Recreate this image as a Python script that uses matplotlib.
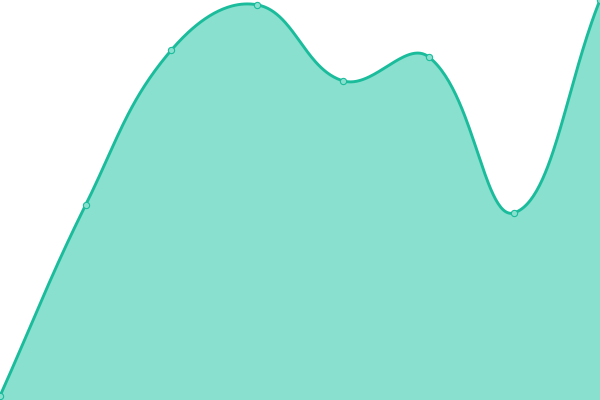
import numpy as np
import matplotlib.pyplot as plt

labels = ['A', 'B', 'C', 'D', 'E', 'F', 'G', 'H']
values = [1, 48.8, 87.5, 98.8, 79.8, 85.8, 46.8, 100]

line_color = '#1abc9c'
fill_color = '#8ae0cf'
tension = 0.4

x = np.arange(len(values), dtype=float)
y = np.array(values, dtype=float)

# spline control points, distances measured in pixel space
sx, sy = 600 / 7, 4.0
cp_prev, cp_next = [], []
n = len(x)
for i in range(n):
    p0 = (x[max(i - 1, 0)], y[max(i - 1, 0)])
    p1 = (x[i], y[i])
    p2 = (x[min(i + 1, n - 1)], y[min(i + 1, n - 1)])
    d01 = np.hypot((p1[0] - p0[0]) * sx, (p1[1] - p0[1]) * sy)
    d12 = np.hypot((p2[0] - p1[0]) * sx, (p2[1] - p1[1]) * sy)
    s01 = d01 / (d01 + d12) if d01 + d12 else 0
    s12 = d12 / (d01 + d12) if d01 + d12 else 0
    fa, fb = tension * s01, tension * s12
    cp_prev.append((p1[0] - fa * (p2[0] - p0[0]), p1[1] - fa * (p2[1] - p0[1])))
    cp_next.append((p1[0] + fb * (p2[0] - p0[0]), p1[1] + fb * (p2[1] - p0[1])))

t = np.linspace(0, 1, 60)[:, None]
segs = []
for i in range(n - 1):
    P0 = np.array([x[i], y[i]])
    P1 = np.array(cp_next[i])
    P2 = np.array(cp_prev[i + 1])
    P3 = np.array([x[i + 1], y[i + 1]])
    b = ((1 - t) ** 3) * P0 + 3 * ((1 - t) ** 2) * t * P1 + 3 * (1 - t) * t ** 2 * P2 + t ** 3 * P3
    segs.append(b if i == 0 else b[1:])
curve = np.vstack(segs)

fig = plt.figure(figsize=(6, 4), dpi=100)
ax = fig.add_axes([0, 0, 1, 1])
ax.fill_between(curve[:, 0], curve[:, 1], -10, color=fill_color, lw=0)
ax.plot(curve[:, 0], curve[:, 1], color=line_color, lw=2.1, solid_capstyle='round')
ax.plot(x, y, 'o', ms=4.5, mfc=fill_color, mec=line_color, mew=0.8, clip_on=True)
ax.set_xlim(0, 7)
ax.set_ylim(0, 100)
ax.axis('off')
fig.savefig('out.png', dpi=100)
